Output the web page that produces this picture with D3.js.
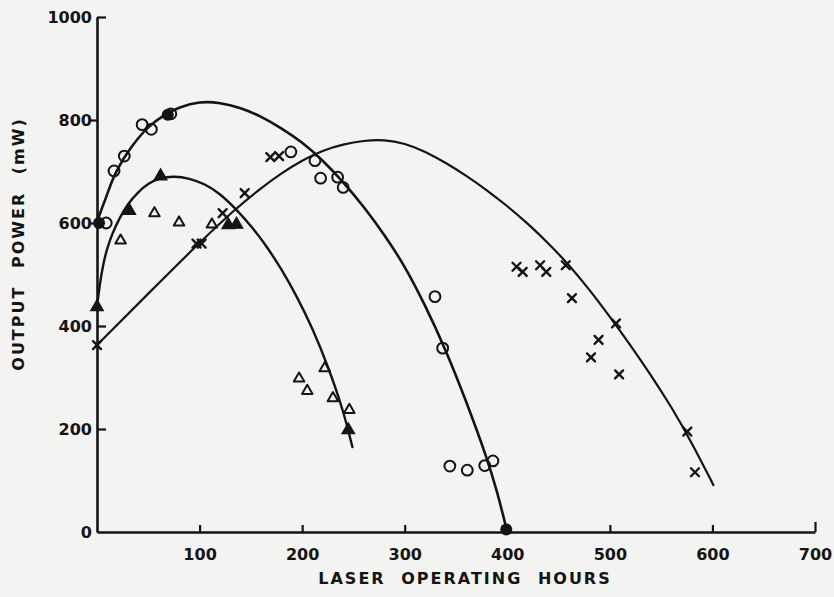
<!DOCTYPE html>
<html>
<head>
<meta charset="utf-8">
<script src="https://cdn.jsdelivr.net/npm/d3@7"></script>
<style>
  html, body { margin: 0; padding: 0; background: #f3f3f1; }
  svg { display: block; }
  text { font-family: "DejaVu Sans", sans-serif; font-weight: bold; fill: #141414; }
</style>
</head>
<body>
<svg id="chart" width="834" height="597"></svg>
<script>
// Output power vs. laser operating hours for three lasers

// Axis ticks
const xTicks = [100, 200, 300, 400, 500, 600, 700];
const yTicks = [0, 200, 400, 600, 800, 1000];

// Laser A (circles): measured points [hours, mW]
const circleOpen = [[9, 600], [16.6, 701], [26.6, 730], [44, 791], [53, 782], [72, 812],
  [189, 738], [212.5, 721], [218, 687], [234.6, 689], [240, 669],
  [329.5, 457], [337, 357], [344, 128], [361, 120], [378, 129], [386, 138]];
const circleFilled = [[2, 600], [69, 810], [399, 5]];
// Laser A fitted curve
const curveA = [[0, 602], [4, 625], [9, 650], [15, 685], [22, 712], [30, 738], [40, 765],
  [50, 787], [65, 810], [80, 825], [100, 836], [120, 834], [140, 824], [160, 807],
  [180, 784], [200, 757], [220, 722], [240, 680], [260, 632], [280, 578], [300, 517],
  [320, 440], [340, 354], [360, 254], [380, 145], [390, 80], [400, 0]];

// Laser B (triangles): measured points
const triFilled = [[0, 437], [31.5, 624], [62, 691], [128, 596], [136, 597], [245, 198]];
const triOpen = [[23, 566], [56, 619], [80, 601], [112, 597], [197, 298], [205, 274],
  [222, 318], [230, 260], [246, 237]];
// Laser B fitted curve
const curveB = [[0, 437], [3, 485], [6, 520], [10, 552], [15, 580], [22, 610], [30, 637],
  [40, 660], [50, 677], [62, 688], [75, 691], [90, 687], [105, 676], [120, 657],
  [135, 628], [150, 595], [165, 556], [180, 510], [195, 457], [210, 396], [225, 323],
  [240, 237], [249, 165]];

// Laser C (crosses): measured points
const crossPts = [[0, 363], [97, 560], [102, 560], [122.5, 619], [144, 658], [169, 728],
  [177.5, 730], [409, 515], [415, 505], [432, 518], [438, 505], [457, 518], [463, 454],
  [481.6, 339], [489, 373], [506, 405], [509, 306], [575.5, 195], [583, 116]];
// Laser C fitted curve
const curveC = [[0, 363], [50, 463], [100, 562], [134, 626], [160, 668], [180, 697],
  [200, 722], [220, 741], [240, 753], [260, 760], [280, 762], [300, 755], [320, 739],
  [340, 717], [360, 692], [380, 664], [400, 633], [420, 599], [440, 561], [460, 519],
  [480, 471], [500, 418], [520, 363], [540, 305], [560, 243], [580, 173], [601, 91]];

const svg = d3.select("#chart");
const ink = "#141414";

const x = d3.scaleLinear().domain([0, 700]).range([97, 815]);
const y = d3.scaleLinear().domain([0, 1000]).range([532, 17]);

// Axes
const xAxis = d3.axisBottom(x).tickValues(xTicks).tickSizeInner(-7).tickSizeOuter(0).tickPadding(17);
const gx = svg.append("g").attr("transform", `translate(0,${y(0)})`).call(xAxis);
gx.select(".domain").attr("stroke", ink).attr("stroke-width", 2.6);
gx.selectAll(".tick line").attr("stroke", ink).attr("stroke-width", 2.2)
  .attr("y2", d => d === 700 ? -10 : -7);
gx.selectAll(".tick text").attr("font-size", 16).attr("font-family", "DejaVu Sans")
  .attr("font-weight", "bold").attr("fill", ink);

const yAxis = d3.axisLeft(y).tickValues(yTicks).tickFormat(d3.format("d")).tickSize(0).tickPadding(5);
const gy = svg.append("g").attr("transform", `translate(${x(0)},0)`).call(yAxis);
gy.select(".domain").attr("stroke", ink).attr("stroke-width", 2.6);
gy.selectAll(".tick text").attr("font-size", 16).attr("font-family", "DejaVu Sans")
  .attr("font-weight", "bold").attr("fill", ink).attr("dy", "0.36em");
// tick marks: the 800 and 600 marks sit outside, the rest point inward
gy.selectAll(".tick").filter(d => d > 0).append("line")
  .attr("x1", 0).attr("x2", d => (d === 800 || d === 600) ? -7 : 9)
  .attr("stroke", ink).attr("stroke-width", 2.2);

// Axis titles
svg.append("text")
  .attr("x", 465).attr("y", 584)
  .attr("text-anchor", "middle")
  .attr("font-size", 16)
  .attr("letter-spacing", 2)
  .attr("word-spacing", 8)
  .text("LASER OPERATING HOURS");

svg.append("text")
  .attr("transform", "translate(24,244) rotate(-90)")
  .attr("text-anchor", "middle")
  .attr("font-size", 16)
  .attr("letter-spacing", 2)
  .attr("word-spacing", 10)
  .text("OUTPUT POWER (mW)");

// Fitted curves
const line = d3.line().x(d => x(d[0])).y(d => y(d[1])).curve(d3.curveBasis);
const curves = svg.append("g").attr("fill", "none").attr("stroke", ink).attr("stroke-linecap", "round");
curves.append("path").datum(curveA).attr("d", line).attr("stroke-width", 2.6);
curves.append("path").datum(curveB).attr("d", line).attr("stroke-width", 2.4);
curves.append("path").datum(curveC).attr("d", line).attr("stroke-width", 2.2);

// Markers
const marks = svg.append("g");
marks.selectAll("circle.open").data(circleOpen).join("circle")
  .attr("class", "open")
  .attr("cx", d => x(d[0])).attr("cy", d => y(d[1])).attr("r", 5.4)
  .attr("fill", "none").attr("stroke", ink).attr("stroke-width", 2);
marks.selectAll("circle.filled").data(circleFilled).join("circle")
  .attr("class", "filled")
  .attr("cx", d => x(d[0])).attr("cy", d => y(d[1])).attr("r", 6)
  .attr("fill", ink);

const tri = d3.symbol().type(d3.symbolTriangle).size(48);
marks.selectAll("path.triOpen").data(triOpen).join("path")
  .attr("class", "triOpen")
  .attr("d", tri).attr("transform", d => `translate(${x(d[0])},${y(d[1])})`)
  .attr("fill", "none").attr("stroke", ink).attr("stroke-width", 2).attr("stroke-linejoin", "round");
marks.selectAll("path.triFilled").data(triFilled).join("path")
  .attr("class", "triFilled")
  .attr("d", d3.symbol().type(d3.symbolTriangle).size(70))
  .attr("transform", d => `translate(${x(d[0])},${y(d[1])})`)
  .attr("fill", ink).attr("stroke", ink).attr("stroke-width", 1.2);

const cross = "M-4,-4L4,4M-4,4L4,-4";
marks.selectAll("path.cross").data(crossPts).join("path")
  .attr("class", "cross")
  .attr("d", cross).attr("transform", d => `translate(${x(d[0])},${y(d[1])})`)
  .attr("fill", "none").attr("stroke", ink).attr("stroke-width", 2.4).attr("stroke-linecap", "round");
</script>
</body>
</html>
